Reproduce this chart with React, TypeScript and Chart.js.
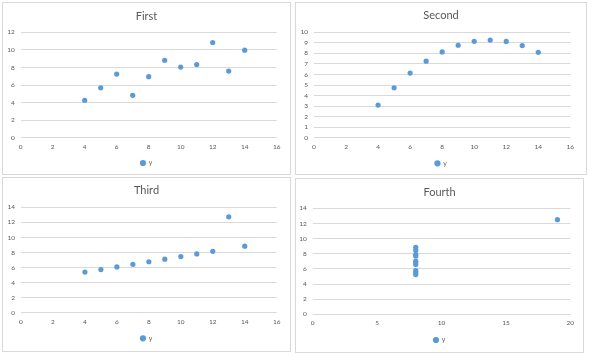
import React, { useEffect, useRef } from "react";
import { Chart, registerables } from "chart.js";

Chart.register(...registerables);

// ---- data (Anscombe's quartet) ----
const chartTitles = ["First", "Second", "Third", "Fourth"];
const seriesName = "y";
const xFirst = [10, 8, 13, 9, 11, 14, 6, 4, 12, 7, 5];
const yFirst = [8.04, 6.95, 7.58, 8.81, 8.33, 9.96, 7.24, 4.26, 10.84, 4.82, 5.68];
const xSecond = [10, 8, 13, 9, 11, 14, 6, 4, 12, 7, 5];
const ySecond = [9.14, 8.14, 8.74, 8.77, 9.26, 8.1, 6.13, 3.1, 9.13, 7.26, 4.74];
const xThird = [10, 8, 13, 9, 11, 14, 6, 4, 12, 7, 5];
const yThird = [7.46, 6.77, 12.74, 7.11, 7.81, 8.84, 6.08, 5.39, 8.15, 6.42, 5.73];
const xFourth = [8, 8, 8, 8, 8, 8, 8, 19, 8, 8, 8];
const yFourth = [6.58, 5.76, 7.71, 8.84, 8.47, 7.04, 5.25, 12.5, 5.56, 7.91, 6.89];

const xSeries = [xFirst, xSecond, xThird, xFourth];
const ySeries = [yFirst, ySecond, yThird, yFourth];

// axis tick settings
const yAxisMax = [12, 10, 14, 14];
const yAxisStep = [2, 1, 2, 2];
const xAxisMax = [16, 16, 16, 20];
const xAxisStep = [2, 2, 2, 5];

// ---- layout (page geometry of each panel) ----
const panelBoxes = [
  { left: 2, top: 2, w: 289, h: 173, titleC: 13, L: 17.7, Rpad: 13.3, T: 29.3, B: 134.7, legendC: 160 },
  { left: 295, top: 2, w: 292, h: 173, titleC: 12, L: 18, Rpad: 15.7, T: 29.3, B: 134.7, legendC: 160.3 },
  { left: 2, top: 177, w: 289, h: 175, titleC: 12.7, L: 18, Rpad: 13.3, T: 29.3, B: 134.7, legendC: 160.3 },
  { left: 295, top: 178, w: 289, h: 175, titleC: 13.3, L: 16.7, Rpad: 12.7, T: 29.3, B: 135.3, legendC: 161 },
];

const FONT = "Lato, 'Open Sans', 'Liberation Sans', sans-serif";
const BLUE = "#5B9BD5";
const TEXT = "#595959";
const GRID = "#d9d9d9";
const TITLE_SIZE = 11;
const TICK_SIZE = 6.5;
const LEGEND_SIZE = 7;
const LEGEND_PAD = 4;

function Panel({ idx }: { idx: number }) {
  const ref = useRef<HTMLCanvasElement | null>(null);
  const g = panelBoxes[idx];
  const W = g.w - 2;
  const H = g.h - 2;

  useEffect(() => {
    if (!ref.current) return;
    const titleLine = TITLE_SIZE * 1.2;
    const titlePadTop = g.titleC - titleLine / 2;
    const titlePadBottom = g.T - titleLine - titlePadTop;
    const xHeight = g.legendC - LEGEND_PAD - LEGEND_SIZE / 2 - g.B;
    const legendMax = H - g.B - xHeight;
    const tickLine = TICK_SIZE * 1.2;

    const points = xSeries[idx].map((x, i) => ({ x, y: ySeries[idx][i] }));

    const chart = new Chart(ref.current, {
      type: "scatter",
      data: {
        datasets: [
          {
            label: seriesName,
            data: points,
            backgroundColor: BLUE,
            borderColor: BLUE,
            borderWidth: 0,
            pointRadius: 2.6,
            pointHoverRadius: 2.6,
          },
        ],
      },
      options: {
        animation: false,
        responsive: false,
        devicePixelRatio: 1,
        layout: { padding: 0 },
        plugins: {
          tooltip: { enabled: false },
          title: {
            display: true,
            text: chartTitles[idx],
            color: TEXT,
            font: { family: FONT, size: TITLE_SIZE, weight: "normal" },
            padding: { top: titlePadTop, bottom: titlePadBottom },
          },
          legend: {
            display: true,
            position: "bottom",
            maxHeight: legendMax,
            labels: {
              usePointStyle: true,
              pointStyle: "circle",
              boxWidth: 4.4,
              boxHeight: 4.4,
              padding: LEGEND_PAD,
              color: TEXT,
              font: { family: FONT, size: LEGEND_SIZE },
            },
          },
        },
        scales: {
          x: {
            type: "linear",
            position: "bottom",
            min: 0,
            max: xAxisMax[idx],
            grid: { display: false, drawTicks: false },
            border: { display: false },
            ticks: {
              stepSize: xAxisStep[idx],
              autoSkip: false,
              color: TEXT,
              padding: 9 - tickLine / 2,
              maxRotation: 0,
              font: { family: FONT, size: TICK_SIZE },
            },
            afterFit: (s: any) => {
              s.height = xHeight;
            },
          },
          y: {
            type: "linear",
            position: "left",
            min: 0,
            max: yAxisMax[idx],
            grid: { color: GRID, lineWidth: 1, drawTicks: false },
            border: { display: false },
            ticks: {
              stepSize: yAxisStep[idx],
              autoSkip: false,
              color: TEXT,
              padding: 6,
              font: { family: FONT, size: TICK_SIZE },
            },
            afterFit: (s: any) => {
              s.width = g.L;
            },
          },
          spacer: {
            type: "linear",
            position: "right",
            display: true,
            grid: { display: false, drawTicks: false },
            border: { display: false },
            ticks: { display: false },
            afterFit: (s: any) => {
              s.width = g.Rpad;
            },
          },
        },
      } as any,
    });
    return () => chart.destroy();
  }, [idx]);

  return (
    <div
      style={{
        position: "absolute",
        left: g.left,
        top: g.top,
        width: g.w,
        height: g.h,
        boxSizing: "border-box",
        border: `1px solid ${GRID}`,
        background: "#fff",
      }}
    >
      <canvas ref={ref} width={W} height={H} style={{ display: "block", width: W, height: H }} />
    </div>
  );
}

export default function App() {
  return (
    <div style={{ position: "absolute", left: 0, top: 0, width: 597, height: 361, background: "#fff" }}>
      {chartTitles.map((_, i) => (
        <Panel key={i} idx={i} />
      ))}
    </div>
  );
}
